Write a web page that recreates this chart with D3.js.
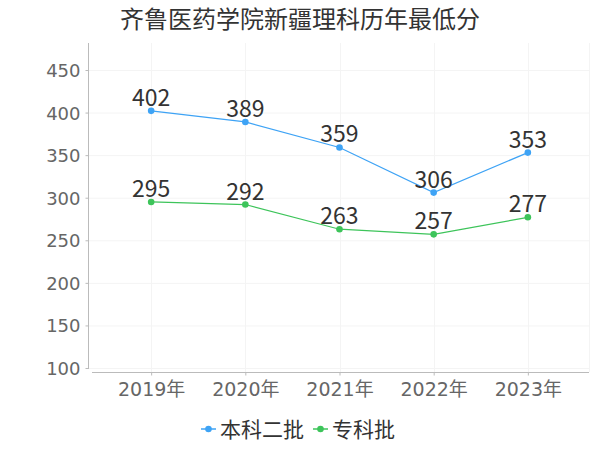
<!DOCTYPE html>
<html>
<head>
<meta charset="utf-8">
<script src="https://cdn.jsdelivr.net/npm/d3@7"></script>
<style>
  body { margin: 0; background: #fff; }
  svg text { font-family: "DejaVu Sans", "Noto Sans CJK SC", sans-serif; }
</style>
</head>
<body>
<svg id="chart" width="600" height="450"></svg>
<script>
// data
var years = ["2019年", "2020年", "2021年", "2022年", "2023年"];
var benke = [402, 389, 359, 306, 353];
var zhuanke = [295, 292, 263, 257, 277];
var yTicks = [100, 150, 200, 250, 300, 350, 400, 450];
var seriesNames = ["本科二批", "专科批"];
var seriesColors = ["#3ea3f5", "#3dc45a"];

var svg = d3.select("#chart");

var x = d3.scalePoint().domain(years).range([89, 590]).padding(0.66),
    y = d3.scaleLinear().domain([100, 450]).range([368, 70]);

// title
svg.append("text")
    .attr("x", 300).attr("y", 28)
    .attr("text-anchor", "middle")
    .style("font-family", "'Noto Sans CJK SC', sans-serif")
    .style("font-size", "24px")
    .style("fill", "#333")
    .text("齐鲁医药学院新疆理科历年最低分");

// grid
svg.append("g").selectAll("line").data(yTicks).enter().append("line")
    .attr("x1", 89).attr("x2", 590)
    .attr("y1", function(d){ return y(d) + 0.5; })
    .attr("y2", function(d){ return y(d) + 0.5; })
    .style("stroke", "#f4f4f4");
svg.append("g").selectAll("line").data(years.concat(["end"])).enter().append("line")
    .attr("x1", function(d){ return d === "end" ? 589.5 : Math.round(x(d)) + 0.5; })
    .attr("x2", function(d){ return d === "end" ? 589.5 : Math.round(x(d)) + 0.5; })
    .attr("y1", 43).attr("y2", 372)
    .style("stroke", "#f4f4f4");

// y axis
var yAxis = svg.append("g")
    .attr("transform", "translate(88.5,0)")
    .call(d3.axisLeft(y).tickValues(yTicks).tickSize(3).tickPadding(5));
yAxis.select(".domain").attr("d", "M0,43V369").style("stroke", "#bbb");
yAxis.selectAll(".tick line").style("stroke", "#bbb");
yAxis.selectAll(".tick text")
    .style("font-size", "18px").style("fill", "#666")
    .attr("dy", "0.36em");

// x axis
var xAxis = svg.append("g")
    .attr("transform", "translate(0,372.5)")
    .call(d3.axisBottom(x).tickSize(3).tickPadding(7));
xAxis.select(".domain").attr("d", "M92,0H589").style("stroke", "#bbb");
xAxis.selectAll(".tick line").style("stroke", "#bbb");
xAxis.selectAll(".tick text")
    .style("font-size", "19px").style("fill", "#666");

// lines
var line = d3.line()
    .x(function(d, i){ return x(years[i]); })
    .y(function(d){ return y(d); });

[benke, zhuanke].forEach(function(vals, s) {
    svg.append("path")
        .datum(vals)
        .attr("d", line)
        .style("fill", "none")
        .style("stroke", seriesColors[s])
        .style("stroke-width", 1.2);
    svg.append("g").selectAll("circle").data(vals).enter().append("circle")
        .attr("cx", function(d, i){ return x(years[i]); })
        .attr("cy", function(d){ return y(d); })
        .attr("r", 3.3)
        .style("fill", seriesColors[s]);
    svg.append("g").selectAll("text").data(vals).enter().append("text")
        .attr("x", function(d, i){ return x(years[i]); })
        .attr("y", function(d){ return y(d) - 5; })
        .attr("text-anchor", "middle")
        .style("font-family", "'Noto Sans CJK SC', sans-serif")
        .style("font-size", "23px")
        .style("fill", "#333")
        .text(function(d){ return d; });
});

// legend
var legendX = [201, 313];
seriesNames.forEach(function(name, s) {
    var g = svg.append("g").attr("transform", "translate(" + legendX[s] + ",429)");
    g.append("line").attr("x1", 0).attr("x2", 15).attr("y1", 0).attr("y2", 0)
        .style("stroke", seriesColors[s]).style("stroke-width", 1.5);
    g.append("circle").attr("cx", 7.5).attr("cy", 0).attr("r", 3.3)
        .style("fill", seriesColors[s]);
    g.append("text").attr("x", 19).attr("y", 0).attr("dy", "0.36em")
        .style("font-family", "'Noto Sans CJK SC', sans-serif")
        .style("font-size", "21px").style("fill", "#333")
        .text(name);
});
</script>
</body>
</html>
